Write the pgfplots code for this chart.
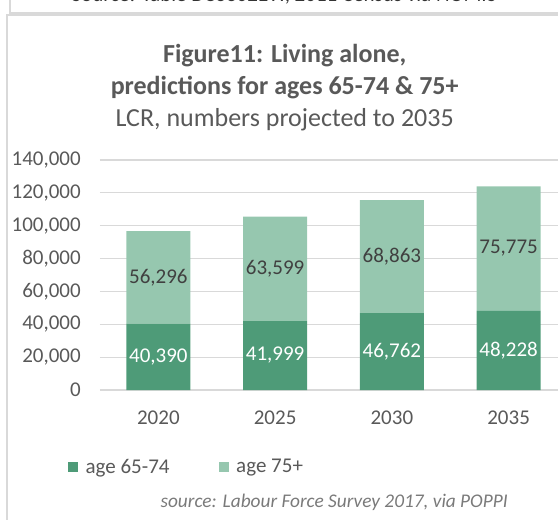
\documentclass[border=0pt]{standalone}
\usepackage{fontspec}
\setmainfont{Carlito}
\usepackage{pgfplots}
\usepackage{pgfplotstable}
\pgfplotsset{compat=1.18}
\definecolor{dg}{HTML}{4E9B78}
\definecolor{lg}{HTML}{96C7AF}
\definecolor{txt}{HTML}{595959}
\definecolor{grd}{HTML}{D9D9D9}
\pgfplotstableread{
x a b
0 40390 56296
1 41999 63599
2 46762 68863
3 48228 75775
}\data
\pgfplotsset{
  common/.style={
    at={(75pt,96.75pt)}, anchor=south west,
    scale only axis, width=350.25pt, height=172.5pt,
    xmin=-0.5, xmax=3.5, ymin=0, ymax=140000,
    clip=false,
  },
  lbl/.style={
    draw=none, point meta=explicit,
    nodes near coords={\pgfmathprintnumber[assume math mode=true,fixed,precision=0,1000 sep={,}]{\pgfplotspointmeta}},
    every node near coord/.append style={font=\fontsize{15.75}{19}\selectfont, anchor=center, inner sep=0pt, text=#1},
  },
}
\begin{document}
\begin{tikzpicture}
% frames
\draw[grd, line width=1.2pt] (7.5pt,400pt) -- (7.5pt,379.5pt) -- (430pt,379.5pt);
\draw[grd, line width=1.2pt] (5.25pt,-5pt) -- (5.25pt,378pt) -- (430pt,378pt);
\node[anchor=base, inner sep=0pt, text=black!80, font=\fontsize{15.75}{19}\selectfont] at (213pt,387.75pt) {Source: Table DC3302EW, 2011 Census via NOMIS};
% titles
\node[text=txt, font=\fontsize{19.5}{23}\selectfont\bfseries] at (213.5pt,347.25pt) {Figure11: Living alone,};
\node[text=txt, font=\fontsize{19.5}{23}\selectfont\bfseries] at (213.5pt,323.25pt) {predictions for ages 65-74 \& 75+};
\node[text=txt, font=\fontsize{19.5}{23}\selectfont] at (213.5pt,299.5pt) {LCR, numbers projected to 2035};
\begin{axis}[
  common,
  ybar stacked, bar width=48pt,
  xtick=data, xticklabels={2020,2025,2030,2035},
  ytick={0,20000,...,140000},
  yticklabel={\pgfmathprintnumber[assume math mode=true,fixed,precision=0,1000 sep={,}]{\tick}},
  ymajorgrids, grid style={grd, line width=0.9pt},
  axis line style={draw=none}, major tick length=0pt,
  scaled y ticks=false,
  tick label style={text=txt, font=\fontsize{15.75}{19}\selectfont},
  yticklabel style={anchor=east, inner sep=0pt, xshift=-14.25pt},
  xticklabel style={anchor=center, inner sep=0pt, yshift=-21pt},
  legend columns=2,
  legend style={at={(rel axis cs:-0.0685,-0.335)}, anchor=west, draw=none, fill=none,
    font=\fontsize{15.75}{19}\selectfont, text=txt, inner sep=0pt,
    /tikz/every even column/.append style={column sep=35pt},
    /tikz/every odd column/.append style={column sep=3.5pt}},
  legend image code/.code={\fill[#1] (0pt,-3.75pt) rectangle (7.5pt,3.75pt);},
]
\addplot[fill=dg, draw=none] table[x=x, y=a] {\data};
\addlegendentry{age 65-74}
\addplot[fill=lg, draw=none] table[x=x, y=b] {\data};
\addlegendentry{age 75+}
\end{axis}
\begin{axis}[common, hide axis]
\addplot[lbl=white] table[x=x, y expr={\thisrow{a}/2}, meta=a] {\data};
\addplot[lbl=black!75] table[x=x, y expr={\thisrow{a}+\thisrow{b}/2}, meta=b] {\data};
\end{axis}
\node[anchor=east, inner sep=0pt, text=txt!80, font=\fontsize{14.5}{17}\selectfont\itshape] at (381pt,12.75pt) {source: Labour Force Survey 2017, via POPPI};
\pgfresetboundingbox
\path[use as bounding box] (0pt,0pt) rectangle (418.5pt,389.25pt);
\end{tikzpicture}
\end{document}
